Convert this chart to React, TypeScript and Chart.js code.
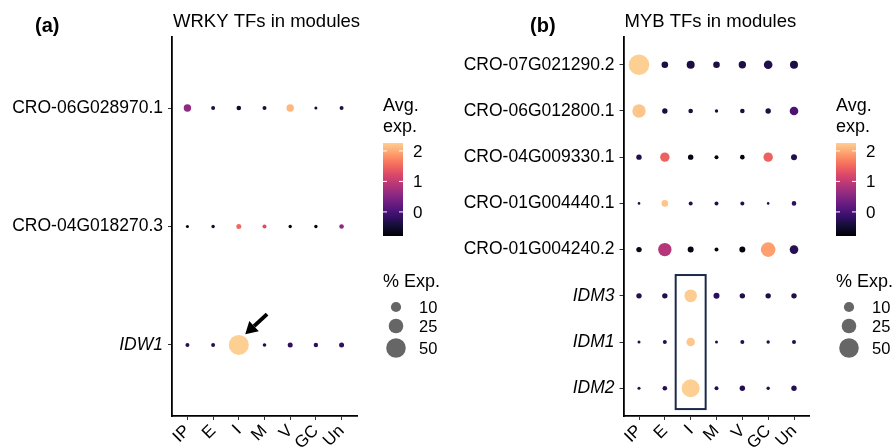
import { useEffect, useRef } from 'react';
import { Chart, registerables } from 'chart.js';

Chart.register(...registerables);

const FONT = "'Liberation Sans', Arial, Helvetica, sans-serif";

// ---------------- data ----------------
const cellTypes = ['IP', 'E', 'I', 'M', 'V', 'GC', 'Un'];

// WRKY panel, rows listed top to bottom
const wrkyGenes = ['CRO-06G028970.1', 'CRO-04G018270.3', 'IDW1'];
const wrkyItalic = [false, false, true];
const wrkyAvg = [
  [0.6, -0.38, -0.52, -0.4, 2.09, -0.5, -0.35],
  [-0.72, -0.5, 1.51, 1.24, -0.7, -0.7, 0.57],
  [-0.28, -0.28, 2.26, -0.32, -0.21, -0.25, -0.2],
];
const wrkyPct = [
  [4.0, 0.34, 0.69, 0.34, 4.0, 0.03, 0.34],
  [0.03, 0.11, 1.0, 0.34, 0.11, 0.11, 0.69],
  [0.34, 0.34, 52.6, 0.17, 1.0, 0.56, 1.0],
];

// MYB panel, rows listed top to bottom
const mybGenes = [
  'CRO-07G021290.2',
  'CRO-06G012800.1',
  'CRO-04G009330.1',
  'CRO-01G004440.1',
  'CRO-01G004240.2',
  'IDM3',
  'IDM1',
  'IDM2',
];
const mybItalic = [false, false, false, false, false, true, true, true];
const mybAvg = [
  [2.26, -0.38, -0.38, -0.36, -0.35, -0.32, -0.36],
  [2.19, -0.4, -0.4, -0.45, -0.4, -0.35, 0.02],
  [-0.33, 1.45, -0.69, -0.72, -0.7, 1.45, -0.3],
  [-0.33, 2.19, -0.3, -0.3, -0.3, -0.3, -0.22],
  [-0.65, 0.9, -0.7, -0.7, -0.72, 1.92, -0.28],
  [-0.3, -0.32, 2.24, -0.25, -0.35, -0.35, -0.35],
  [-0.3, -0.3, 2.2, -0.32, -0.3, -0.3, -0.3],
  [-0.32, -0.3, 2.26, -0.3, -0.3, -0.3, -0.3],
];
const mybPct = [
  [56, 2.8, 5.1, 2.8, 4.0, 6.25, 5.1],
  [20.3, 1.36, 0.69, 0.11, 0.69, 1.36, 6.25],
  [1.36, 8.0, 1.36, 0.34, 0.69, 8.0, 2.0],
  [0, 2.8, 0.34, 0.34, 0.34, 0, 0.69],
  [1.36, 20.3, 2.0, 0.34, 2.0, 25, 6.25],
  [1.36, 1.36, 17.4, 2.0, 1.36, 1.36, 1.36],
  [0.03, 0.34, 6.25, 0.03, 0.34, 0.11, 0.34],
  [0.03, 0.69, 41, 0.34, 1.36, 0.11, 1.36],
];

const colorLimits = [-0.79, 2.26];
const colorTicks = [0, 1, 2];
const sizeBreaks = [10, 25, 50];

// ---------------- styles ----------------
const magmaStops = [
  '#000004', '#140e36', '#3b0f70', '#641a80', '#8c2981', '#b73779',
  '#de4968', '#f7705c', '#fe9f6d', '#fecf92', '#fcfdbf',
];
const magmaEnd = 0.9;

function hexToRgb(h: string) {
  const n = parseInt(h.slice(1), 16);
  return [(n >> 16) & 255, (n >> 8) & 255, n & 255];
}
function magma(t: number) {
  const tt = Math.max(0, Math.min(1, t)) * (magmaStops.length - 1);
  const i = Math.min(magmaStops.length - 2, Math.floor(tt));
  const f = tt - i;
  const a = hexToRgb(magmaStops[i]);
  const b = hexToRgb(magmaStops[i + 1]);
  const c = a.map((v, k) => Math.round(v + (b[k] - v) * f));
  return `rgb(${c[0]},${c[1]},${c[2]})`;
}
function colorFor(v: number) {
  const t = (v - colorLimits[0]) / (colorLimits[1] - colorLimits[0]);
  return magma(t * magmaEnd);
}
function radiusFor(pct: number) {
  return 1.3 + 1.2 * Math.sqrt(Math.max(0, pct));
}

type PanelCfg = {
  tag: string;
  title: string;
  genes: string[];
  italic: boolean[];
  avg: number[][];
  pct: number[][];
  plotLeft: number;
  plotRight: number;
  tagX: number;
  legendX: number;
  kind: 'arrow' | 'box';
};

const PLOT_TOP = 37;
const PLOT_BOTTOM = 416;
const W = 448;
const H = 448;

function drawLegend(ctx: CanvasRenderingContext2D, x: number) {
  ctx.save();
  ctx.fillStyle = '#000';
  ctx.textAlign = 'left';
  ctx.textBaseline = 'alphabetic';
  ctx.font = `18px ${FONT}`;
  ctx.fillText('Avg.', x, 111);
  ctx.fillText('exp.', x, 132);

  const top = 143;
  const bottom = 236;
  const w = 20;
  const g = ctx.createLinearGradient(0, bottom, 0, top);
  for (let i = 0; i <= 20; i++) {
    g.addColorStop(i / 20, magma((i / 20) * magmaEnd));
  }
  ctx.fillStyle = g;
  ctx.fillRect(x, top, w, bottom - top);

  ctx.strokeStyle = '#ffffff';
  ctx.lineWidth = 1;
  ctx.font = `17px ${FONT}`;
  ctx.textBaseline = 'middle';
  for (const v of colorTicks) {
    const y =
      bottom - ((v - colorLimits[0]) / (colorLimits[1] - colorLimits[0])) * (bottom - top);
    ctx.beginPath();
    ctx.moveTo(x, y);
    ctx.lineTo(x + 4, y);
    ctx.moveTo(x + w - 4, y);
    ctx.lineTo(x + w, y);
    ctx.stroke();
    ctx.fillStyle = '#000';
    ctx.fillText(String(v), x + w + 10, y + 1);
  }

  ctx.textBaseline = 'alphabetic';
  ctx.font = `18px ${FONT}`;
  ctx.fillText('% Exp.', x, 287);

  const ys = [307, 326, 348];
  const cx = x + 13;
  ctx.font = `16.5px ${FONT}`;
  ctx.textBaseline = 'middle';
  sizeBreaks.forEach((b, i) => {
    ctx.fillStyle = '#666666';
    ctx.beginPath();
    ctx.arc(cx, ys[i], radiusFor(b), 0, Math.PI * 2);
    ctx.fill();
    ctx.fillStyle = '#000';
    ctx.fillText(String(b), cx + 23, ys[i] + 1);
  });
  ctx.restore();
}

function makeChart(canvas: HTMLCanvasElement, cfg: PanelCfg) {
  const n = cfg.genes.length;
  const points: { x: number; y: number; avg: number; pct: number }[] = [];
  cfg.avg.forEach((row, i) => {
    row.forEach((a, j) => {
      points.push({ x: j + 1, y: n - i, avg: a, pct: cfg.pct[i][j] });
    });
  });
  const labelForY = (v: number) => cfg.genes[n - Math.round(v)];
  const italicForY = (v: number) => cfg.italic[n - Math.round(v)];

  const plugin = {
    id: 'panelExtras',
    afterDraw(chart: any) {
      const ctx: CanvasRenderingContext2D = chart.ctx;
      const xs = chart.scales.x;
      const ysc = chart.scales.y;
      ctx.save();
      ctx.fillStyle = '#000';
      ctx.textAlign = 'left';
      ctx.textBaseline = 'middle';
      ctx.font = `bold 20px ${FONT}`;
      ctx.fillText(cfg.tag, cfg.tagX, 26);
      ctx.textBaseline = 'alphabetic';
      ctx.font = `18.5px ${FONT}`;
      ctx.fillText(cfg.title, cfg.plotLeft + 1, 27);

      if (cfg.kind === 'arrow') {
        const x0 = xs.getPixelForValue(4.1);
        const y0 = ysc.getPixelForValue(1.26);
        const x1 = xs.getPixelForValue(3.25);
        const y1 = ysc.getPixelForValue(1.09);
        const ang = Math.atan2(y1 - y0, x1 - x0);
        const hl = 12;
        const hw = 7;
        const bx = x1 - hl * Math.cos(ang);
        const by = y1 - hl * Math.sin(ang);
        ctx.strokeStyle = '#000';
        ctx.lineWidth = 4;
        ctx.beginPath();
        ctx.moveTo(x0, y0);
        ctx.lineTo(bx, by);
        ctx.stroke();
        ctx.beginPath();
        ctx.moveTo(x1, y1);
        ctx.lineTo(bx + hw * Math.sin(ang), by - hw * Math.cos(ang));
        ctx.lineTo(bx - hw * Math.sin(ang), by + hw * Math.cos(ang));
        ctx.closePath();
        ctx.fillStyle = '#000';
        ctx.fill();
      } else {
        const xa = xs.getPixelForValue(2.42);
        const xb = xs.getPixelForValue(3.58);
        const ya = ysc.getPixelForValue(3.45);
        const yb = ysc.getPixelForValue(0.55);
        ctx.strokeStyle = '#1b2a4a';
        ctx.lineWidth = 2;
        ctx.strokeRect(xa, ya, xb - xa, yb - ya);
      }
      drawLegend(ctx, cfg.legendX);
      ctx.restore();
    },
  };

  return new Chart(canvas, {
    type: 'scatter',
    data: {
      datasets: [
        {
          data: points,
          pointRadius: points.map((p) => radiusFor(p.pct)),
          pointHoverRadius: points.map((p) => radiusFor(p.pct)),
          pointBackgroundColor: points.map((p) => colorFor(p.avg)),
          pointBorderWidth: 0,
          pointBorderColor: 'rgba(0,0,0,0)',
        },
      ],
    },
    options: {
      animation: false,
      responsive: false,
      maintainAspectRatio: false,
      events: [],
      layout: {
        padding: { left: 0, top: PLOT_TOP, right: W - cfg.plotRight, bottom: 0 },
      },
      plugins: {
        legend: { display: false },
        tooltip: { enabled: false },
        title: { display: false },
      },
      scales: {
        x: {
          type: 'linear',
          min: 0.4,
          max: 7.6,
          afterBuildTicks: (s: any) => {
            s.ticks = cellTypes.map((_, i) => ({ value: i + 1 }));
          },
          afterFit: (s: any) => {
            s.height = H - PLOT_BOTTOM;
          },
          ticks: {
            autoSkip: false,
            minRotation: 45,
            maxRotation: 45,
            padding: 1,
            color: '#000',
            font: { family: FONT, size: 17 },
            callback: (v: any) => cellTypes[Math.round(Number(v)) - 1] ?? '',
          },
          grid: {
            display: true,
            drawOnChartArea: false,
            drawTicks: true,
            tickLength: 4,
            color: '#333333',
            lineWidth: 1,
          },
          border: { display: true, color: '#000', width: 1.8 },
        },
        y: {
          type: 'linear',
          min: 0.4,
          max: n + 0.6,
          afterBuildTicks: (s: any) => {
            s.ticks = cfg.genes.map((_, i) => ({ value: i + 1 }));
          },
          afterFit: (s: any) => {
            s.width = cfg.plotLeft;
          },
          ticks: {
            autoSkip: false,
            padding: 5,
            color: '#000',
            font: (c: any) => ({
              family: FONT,
              size: 17.5,
              style: c && c.tick && italicForY(c.tick.value) ? 'italic' : 'normal',
            }),
            callback: (v: any) => labelForY(Number(v)) ?? '',
          },
          grid: {
            display: true,
            drawOnChartArea: false,
            drawTicks: true,
            tickLength: 4,
            color: '#333333',
            lineWidth: 1,
          },
          border: { display: true, color: '#000', width: 1.8 },
        },
      },
    } as any,
    plugins: [plugin],
  });
}

const leftCfg: PanelCfg = {
  tag: '(a)',
  title: 'WRKY TFs in modules',
  genes: wrkyGenes,
  italic: wrkyItalic,
  avg: wrkyAvg,
  pct: wrkyPct,
  plotLeft: 172,
  plotRight: 357,
  tagX: 35,
  legendX: 383,
  kind: 'arrow',
};

const rightCfg: PanelCfg = {
  tag: '(b)',
  title: 'MYB TFs in modules',
  genes: mybGenes,
  italic: mybItalic,
  avg: mybAvg,
  pct: mybPct,
  plotLeft: 175.5,
  plotRight: 361.5,
  tagX: 82,
  legendX: 388,
  kind: 'box',
};

function Panel({ cfg, left }: { cfg: PanelCfg; left: number }) {
  const ref = useRef<HTMLCanvasElement | null>(null);
  useEffect(() => {
    if (!ref.current) return;
    const chart = makeChart(ref.current, cfg);
    return () => chart.destroy();
  }, [cfg]);
  return (
    <canvas
      ref={ref}
      width={W}
      height={H}
      style={{ position: 'absolute', left, top: 0, width: W, height: H, display: 'block' }}
    />
  );
}

export default function App() {
  useEffect(() => {
    document.body.style.margin = '0';
    document.body.style.background = '#ffffff';
  }, []);
  return (
    <div
      style={{
        position: 'fixed',
        left: 0,
        top: 0,
        width: 896,
        height: 448,
        background: '#ffffff',
        overflow: 'hidden',
      }}
    >
      <Panel cfg={leftCfg} left={0} />
      <Panel cfg={rightCfg} left={448} />
    </div>
  );
}
